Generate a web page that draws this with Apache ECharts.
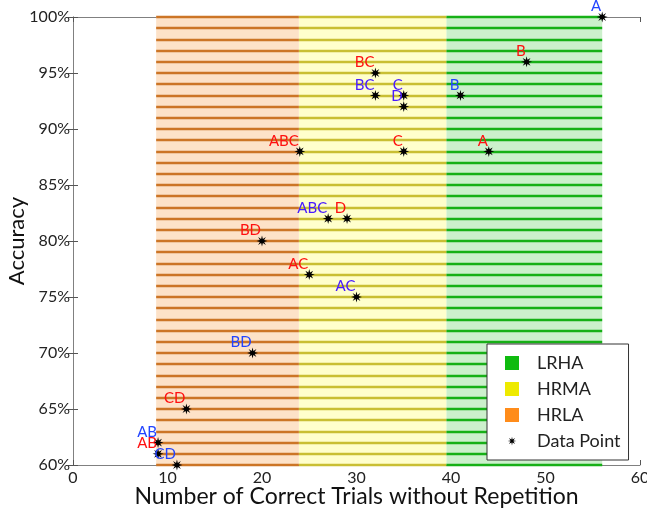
<!DOCTYPE html>
<html>
<head>
<meta charset="utf-8">
<script src="https://cdn.jsdelivr.net/npm/echarts@6/dist/echarts.min.js"></script>
<style>
  html, body { margin: 0; padding: 0; background: #ffffff; }
  #chart { width: 647px; height: 512px; }
</style>
</head>
<body>
<div id="chart"></div>
<script>
// points: trials (x), accuracy % (y), label text and label colour
const trials = [56, 48, 32, 32, 35, 35, 41, 24, 35, 44, 27, 29, 20, 25, 30, 19, 12, 9, 9, 11]
const accuracy = [100, 96, 95, 93, 93, 92, 93, 88, 88, 88, 82, 82, 80, 77, 75, 70, 65, 62, 61, 60]
const pointNames = ['A', 'B', 'BC', 'BC', 'C', 'D', 'B', 'ABC', 'C', 'A', 'ABC', 'D', 'BD', 'AC', 'AC', 'BD', 'CD', 'AB', 'AB', 'CD']
const pointTone = ['blue', 'red', 'red', 'violet', 'violet', 'violet', 'blue', 'red', 'red', 'red',
  'violet', 'red', 'red', 'red', 'violet', 'blue', 'red', 'blue', 'red', 'blue']

// shaded zones along x
const zoneNames = ['LRHA', 'HRMA', 'HRLA']
const zoneFrom = [39.5, 23.9, 8.8]
const zoneTo = [56, 39.5, 23.9]

const xTicks = { min: 0, max: 60, interval: 10 }
const yTicks = { min: 60, max: 100, interval: 5 }

const toneColors = { red: '#ff1010', blue: '#2244ff', violet: '#4a1cff' }
const zoneLegend = ['#0fbb0f', '#eeea00', '#ff8c1a']
const zoneFill = ['#ccf0cc', '#ffffcc', '#fde2c8']
const zoneLine = ['#16b016', '#c9bf33', '#cc7526']

// 8 pointed star for the markers
function starPath(r1, r2, pad) {
  let d = ''
  for (let i = 0; i < 16; i++) {
    let a = i * Math.PI / 8 - Math.PI / 2
    let r = i % 2 === 0 ? r1 : r2
    d += (i === 0 ? 'M' : 'L') + (r * Math.cos(a)).toFixed(2) + ',' + (r * Math.sin(a)).toFixed(2)
  }
  d += 'Z'
  if (pad) {
    d += 'M' + (-pad) + ',' + (-pad) + 'L' + (-pad + 0.01) + ',' + (-pad) + 'M' + pad + ',' + pad + 'L' + (pad - 0.01) + ',' + pad
  }
  return 'path://' + d
}

const chart = echarts.init(document.getElementById('chart'))

let zoneSeries = zoneNames.map((name, k) => {
  let lines = []
  for (let y = yTicks.min; y <= yTicks.max; y++) {
    lines.push([{ coord: [zoneFrom[k], y] }, { coord: [zoneTo[k], y] }])
  }
  return {
    name: name,
    type: 'scatter',
    data: [],
    itemStyle: { color: zoneLegend[k], opacity: 1 },
    markArea: {
      silent: true,
      itemStyle: { color: zoneFill[k], opacity: 1 },
      data: [[{ coord: [zoneFrom[k], yTicks.min] }, { coord: [zoneTo[k], yTicks.max] }]]
    },
    markLine: {
      silent: true,
      symbol: ['none', 'none'],
      label: { show: false },
      lineStyle: { color: zoneLine[k], width: 2.4, type: 'solid', opacity: 1 },
      data: lines
    }
  }
})

let pointData = trials.map((x, i) => ({
  value: [x, accuracy[i]],
  label: { formatter: pointNames[i], color: toneColors[pointTone[i]] }
}))

const axisGray = '#808080'
const font = 'Lato'

let option = {
  animation: false,
  textStyle: { fontFamily: font },
  grid: { left: 73, right: 7, top: 17, bottom: 47, outerBoundsMode: 'none', containLabel: false },
  legend: {
    orient: 'vertical',
    left: 487,
    top: 344,
    padding: [10, 8, 10, 18],
    itemGap: 8,
    itemWidth: 14,
    itemHeight: 14,
    backgroundColor: '#ffffff',
    borderColor: '#333333',
    borderWidth: 1,
    z: 20,
    textStyle: { fontFamily: font, fontSize: 18, color: '#222', padding: [0, 0, 0, 13] },
    data: [
      { name: 'LRHA', icon: 'rect' },
      { name: 'HRMA', icon: 'rect' },
      { name: 'HRLA', icon: 'rect' },
      { name: 'Data Point', icon: starPath(5, 1.8, 8) }
    ]
  },
  xAxis: [
    {
      type: 'value',
      min: xTicks.min, max: xTicks.max, interval: xTicks.interval,
      name: 'Number of Correct Trials without Repetition',
      nameLocation: 'middle',
      nameGap: 20,
      nameMoveOverlap: false,
      nameTextStyle: { fontFamily: font, fontSize: 23, color: '#111' },
      axisLine: { show: true, lineStyle: { color: axisGray } },
      axisTick: { show: true, inside: true, length: 5, lineStyle: { color: '#555' } },
      axisLabel: { fontFamily: font, fontSize: 16, color: '#222', margin: 5 },
      splitLine: { show: false }
    },
    {
      type: 'value',
      position: 'top',
      min: xTicks.min, max: xTicks.max, interval: xTicks.interval,
      axisLine: { show: true, lineStyle: { color: axisGray } },
      axisTick: { show: true, inside: true, length: 5, lineStyle: { color: '#555' } },
      axisLabel: { show: false },
      splitLine: { show: false }
    }
  ],
  yAxis: [
    {
      type: 'value',
      min: yTicks.min, max: yTicks.max, interval: yTicks.interval,
      name: 'Accuracy',
      nameLocation: 'middle',
      nameGap: 45,
      nameMoveOverlap: false,
      nameTextStyle: { fontFamily: font, fontSize: 22, color: '#111' },
      axisLine: { show: true, lineStyle: { color: axisGray } },
      axisTick: { show: true, inside: true, length: 5, lineStyle: { color: '#555' } },
      axisLabel: { fontFamily: font, fontSize: 16, color: '#222', margin: 3, formatter: v => v + '%' },
      splitLine: { show: false }
    },
    {
      type: 'value',
      position: 'right',
      min: yTicks.min, max: yTicks.max, interval: yTicks.interval,
      axisLine: { show: true, lineStyle: { color: axisGray } },
      axisTick: { show: true, inside: true, length: 5, lineStyle: { color: '#555' } },
      axisLabel: { show: false },
      splitLine: { show: false }
    }
  ],
  series: zoneSeries.concat([
    {
      name: 'Data Point',
      type: 'scatter',
      symbol: starPath(5.5, 2.3),
      symbolSize: 11,
      itemStyle: { color: '#000000', opacity: 1 },
      z: 5,
      label: {
        show: true,
        position: [4.5, 2.5],
        align: 'right',
        verticalAlign: 'bottom',
        fontFamily: font,
        fontSize: 15
      },
      data: pointData
    }
  ])
}

chart.setOption(option)
</script>
</body>
</html>
